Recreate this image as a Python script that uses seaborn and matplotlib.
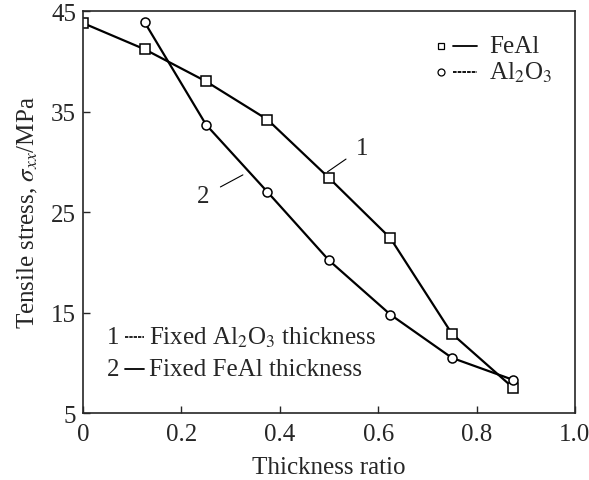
import matplotlib
matplotlib.use("Agg")
import matplotlib.pyplot as plt
import seaborn as sns
import pandas as pd

# thickness ratio and tensile stress
ratio_feal = [0.0, 0.125, 0.25, 0.375, 0.5, 0.625, 0.75, 0.875]
stress_feal = [43.8, 41.2, 38.0, 34.2, 28.4, 22.4, 12.9, 7.5]

ratio_al2o3 = [0.125, 0.25, 0.375, 0.5, 0.625, 0.75, 0.875]
stress_al2o3 = [43.9, 33.7, 27.0, 20.2, 14.8, 10.5, 8.3]

xticks = [0, 0.2, 0.4, 0.6, 0.8, 1.0]
xticklabels = ["0", "0.2", "0.4", "0.6", "0.8", "1.0"]
yticks = [5, 15, 25, 35, 45]

FS = 18


def main():
    sns.set_style("ticks")
    plt.rcParams['font.family'] = ['Liberation Serif', 'DejaVu Serif']
    plt.rcParams['mathtext.fontset'] = 'stix'

    df1 = pd.DataFrame({'ratio': ratio_feal, 'stress': stress_feal})
    df2 = pd.DataFrame({'ratio': ratio_al2o3, 'stress': stress_al2o3})

    fig = plt.figure(figsize=(5.89, 4.81), dpi=100)
    ax = fig.add_axes([0.141, 0.139, 0.835, 0.836])

    sns.lineplot(data=df1, x='ratio', y='stress', ax=ax, color='black',
                 linewidth=1.6, marker='s', markersize=6.5,
                 markerfacecolor='white', markeredgecolor='black',
                 markeredgewidth=1.1)
    sns.lineplot(data=df2, x='ratio', y='stress', ax=ax, color='black',
                 linewidth=1.6, marker='o', markersize=6.5,
                 markerfacecolor='white', markeredgecolor='black',
                 markeredgewidth=1.1)

    ax.set_xlim(0, 1.0)
    ax.set_ylim(5, 45)
    ax.set_xticks(xticks)
    ax.set_xticklabels(xticklabels)
    ax.set_yticks(yticks)
    ax.tick_params(direction='in', length=5, width=1, labelsize=FS)
    ax.tick_params(axis='x', pad=7)
    ax.tick_params(axis='y', pad=5)
    for s in ax.spines.values():
        s.set_linewidth(1.2)
        s.set_visible(True)

    ax.set_xlabel("Thickness ratio", fontsize=FS, labelpad=8)
    ax.set_ylabel(r"Tensile stress, $\sigma_{xx}$/MPa", fontsize=FS, labelpad=8)

    # curve labels with leader lines
    ax.annotate("1", xy=(0.497, 29.0), xytext=(0.568, 31.4), fontsize=FS,
                ha='center', va='center',
                arrowprops=dict(arrowstyle='-', lw=0.8, color='black',
                                shrinkA=6, shrinkB=0))
    ax.annotate("2", xy=(0.325, 28.7), xytext=(0.245, 26.6), fontsize=FS,
                ha='center', va='center',
                arrowprops=dict(arrowstyle='-', lw=0.8, color='black',
                                shrinkA=6, shrinkB=0))

    # material legend (upper right)
    ax.plot([0.728], [41.5], marker='s', ms=5, mfc='white', mec='black',
            mew=0.9)
    ax.plot([0.752, 0.80], [41.5, 41.5], color='black', lw=1.3)
    ax.text(0.825, 41.5, "FeAl", fontsize=FS, va='center')
    ax.plot([0.728], [38.9], marker='o', ms=5, mfc='white', mec='black',
            mew=0.9)
    ax.plot([0.752, 0.80], [38.9, 38.9], color='black', lw=1.3,
            ls=(0, (2, 0.6)))
    ax.text(0.825, 38.9, r"Al$_2$O$_3$", fontsize=FS, va='center')

    # curve key (lower left)
    ax.text(0.048, 12.6, "1", fontsize=FS, va='center')
    ax.plot([0.086, 0.124], [12.6, 12.6], color='black', lw=1.2,
            ls=(0, (2, 0.6)))
    ax.text(0.134, 12.6, r"Fixed Al$_2$O$_3$ thickness", fontsize=FS,
            va='center')
    ax.text(0.048, 9.4, "2", fontsize=FS, va='center')
    ax.plot([0.086, 0.124], [9.4, 9.4], color='black', lw=1.3)
    ax.text(0.134, 9.4, "Fixed FeAl thickness", fontsize=FS, va='center')

    fig.savefig("out.png", dpi=100)
    plt.close(fig)


if __name__ == '__main__':
    main()
